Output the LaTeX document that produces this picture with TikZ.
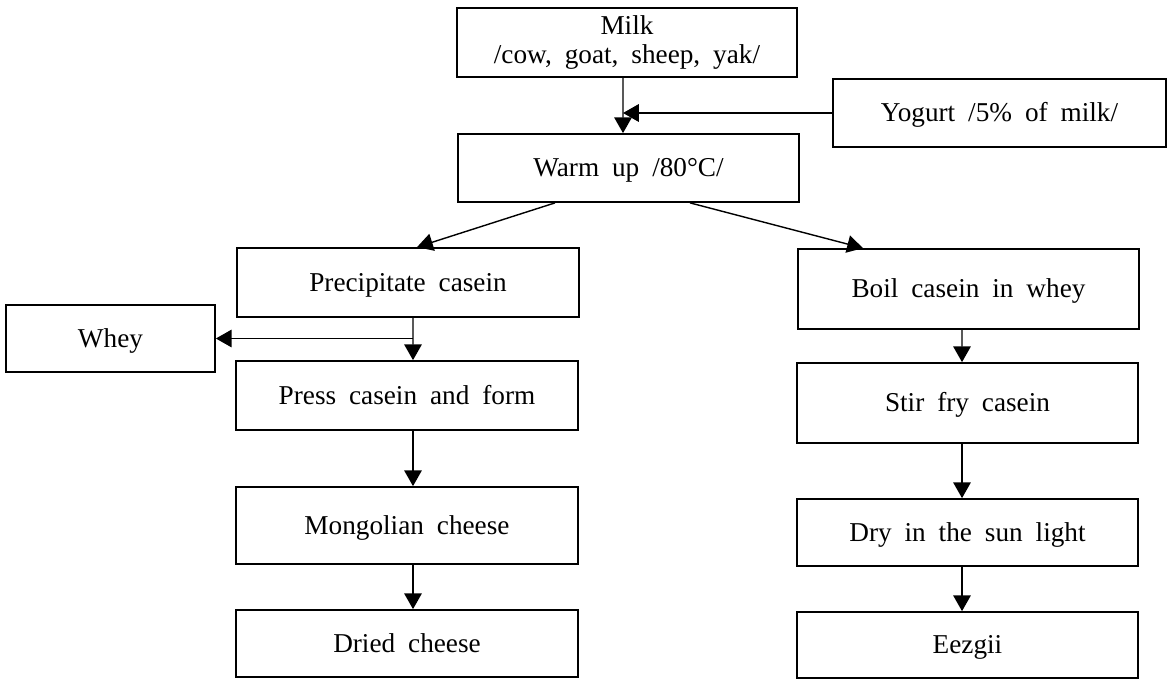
\documentclass[tikz,border=0pt]{standalone}
\usepackage{fontspec}
\setmainfont{Liberation Serif}[WordSpace=1.9]
\usetikzlibrary{arrows.meta}
\tikzset{
  stepbox/.style={draw, line width=1pt, inner sep=2pt, align=center,
    font=\fontsize{15.5}{16}\selectfont},
  oneline/.style={stepbox, text height=10pt, text depth=0pt},
  flow/.style={line width=0.8pt, -{Triangle[length=9pt,width=10pt]}}
}
\begin{document}
\begin{tikzpicture}[x=0.02cm,y=-0.02cm]
\useasboundingbox (0,0) rectangle (1168,679);
% top of the chart
\node[stepbox, minimum width=6.8cm, minimum height=1.38cm] (milk) at (627,42.5) {Milk\\/cow, goat, sheep, yak/};
\node[oneline, minimum width=6.82cm, minimum height=1.36cm] (warm) at (628.5,168) {Warm up /80°C/};
\node[oneline, minimum width=6.66cm, minimum height=1.36cm] (yogurt) at (999.5,113) {Yogurt /5\% of milk/};
% cheese branch
\node[oneline, minimum width=6.84cm, minimum height=1.38cm] (prec) at (408,282.5) {Precipitate casein};
\node[oneline, minimum width=4.18cm, minimum height=1.34cm] (whey) at (110.5,338.5) {Whey};
\node[oneline, minimum width=6.84cm, minimum height=1.38cm] (press) at (407,395.5) {Press casein and form};
\node[oneline, minimum width=6.84cm, minimum height=1.54cm] (mongol) at (407,525.5) {Mongolian cheese};
\node[oneline, minimum width=6.84cm, minimum height=1.34cm] (dried) at (407,643.5) {Dried cheese};
% eezgii branch
\node[oneline, minimum width=6.82cm, minimum height=1.6cm] (boil) at (968.5,289) {Boil casein in whey};
\node[oneline, minimum width=6.82cm, minimum height=1.6cm] (stir) at (967.5,403) {Stir fry casein};
\node[oneline, minimum width=6.82cm, minimum height=1.34cm] (dry) at (967.5,532.5) {Dry in the sun light};
\node[oneline, minimum width=6.82cm, minimum height=1.32cm] (eezgii) at (967.5,645) {Eezgii};
% connectors
\coordinate (addin) at (623,113);
\coordinate (split) at (413,338.5);
\draw[flow] ([xshift=-0.08cm]milk.south) -- ([xshift=-0.11cm]warm.north);
\draw[flow] (yogurt.west) -- (addin);
\draw[flow] ([xshift=-1.47cm]warm.south) -- ([xshift=0.18cm]prec.north);
\draw[flow] ([xshift=1.23cm]warm.south) -- ([xshift=-2.11cm]boil.north);
\draw[flow] ([xshift=0.1cm]prec.south) -- ([xshift=0.12cm]press.north);
\draw[flow] (split) -- (whey.east);
\draw[flow] ([xshift=0.12cm]press.south) -- ([xshift=0.12cm]mongol.north);
\draw[flow] ([xshift=0.12cm]mongol.south) -- ([xshift=0.12cm]dried.north);
\draw[flow] ([xshift=-0.13cm]boil.south) -- ([xshift=-0.11cm]stir.north);
\draw[flow] ([xshift=-0.11cm]stir.south) -- ([xshift=-0.11cm]dry.north);
\draw[flow] ([xshift=-0.11cm]dry.south) -- ([xshift=-0.11cm]eezgii.north);
\end{tikzpicture}
\end{document}
